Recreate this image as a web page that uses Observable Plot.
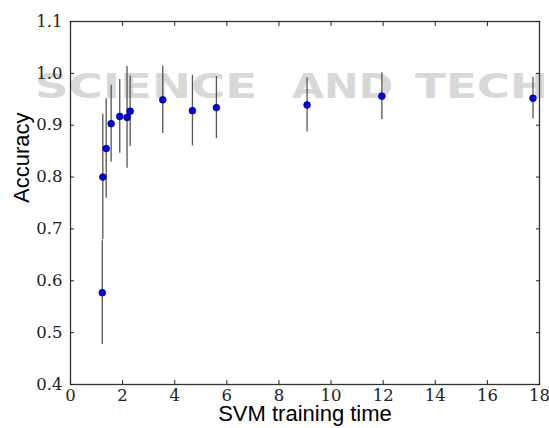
<!DOCTYPE html>
<html><head><meta charset="utf-8">
<script src="https://cdn.jsdelivr.net/npm/d3@7"></script>
<script src="https://cdn.jsdelivr.net/npm/@observablehq/plot@0.6"></script>
<style>
html,body{margin:0;padding:0;background:#fff;}
#wrap{position:relative;width:549px;height:428px;overflow:hidden;}
#wm{position:absolute;left:0;top:0;z-index:0;}
#chart{position:absolute;left:0;top:0;z-index:1;}
#chart svg{background:transparent !important;}
</style></head><body>
<div id="wrap">
<svg id="wm" width="549" height="428">
 <g fill="#d8d8d8" font-family="DejaVu Sans" font-weight="bold" font-size="34">
  <text x="35" y="98" textLength="222" lengthAdjust="spacingAndGlyphs">SCIENCE</text>
  <text x="292" y="98" textLength="101" lengthAdjust="spacingAndGlyphs">AND</text>
  <text x="415" y="98" textLength="133" lengthAdjust="spacingAndGlyphs">TECH</text>
 </g>
</svg>
<div id="chart"></div>
</div>
<script>
const trainingTime = [1.22, 1.24, 1.37, 1.56, 1.89, 2.17, 2.29, 3.54, 4.68, 5.60, 9.08, 11.95, 17.75];
const accuracy     = [0.577, 0.800, 0.855, 0.903, 0.917, 0.915, 0.927, 0.949, 0.928, 0.934, 0.939, 0.956, 0.952];
const accuracyErr  = [0.100, 0.121, 0.096, 0.074, 0.071, 0.098, 0.068, 0.065, 0.068, 0.060, 0.052, 0.045, 0.040];
const xTicks = [0, 2, 4, 6, 8, 10, 12, 14, 16, 18];
const yTicks = [0.4, 0.5, 0.6, 0.7, 0.8, 0.9, 1.0, 1.1];
const yTickLabels = ["0.4", "0.5", "0.6", "0.7", "0.8", "0.9", "1.0", "1.1"];
const xLabel = "SVM training time";
const yLabel = "Accuracy";

const rows = trainingTime.map((t, i) => ({time: t, acc: accuracy[i], err: accuracyErr[i]}));
const yTickRows = yTicks.map((v, i) => ({v, label: yTickLabels[i]}));
const sans = "'Liberation Sans', Arial, sans-serif";
const serif = "'DejaVu Serif', serif";
const noText = () => "";

const chart = Plot.plot({
  width: 549, height: 428,
  marginLeft: 70, marginRight: 10, marginTop: 21, marginBottom: 44,
  style: "background: transparent; color: #222;",
  x: {domain: [0, 18]},
  y: {domain: [0.4, 1.1]},
  marks: [
    Plot.ruleX(rows, {x: "time", y1: d => d.acc - d.err, y2: d => d.acc + d.err, stroke: "#555", strokeWidth: 1.3}),
    Plot.dot(rows, {x: "time", y: "acc", r: 3.4, fill: "#0000ff", stroke: "#000", strokeWidth: 0.6}),
    Plot.frame({stroke: "#333", strokeWidth: 1.3}),
    Plot.axisX(xTicks, {anchor: "bottom", tickSize: -4, tickFormat: noText, label: null}),
    Plot.axisX(xTicks, {anchor: "top", tickSize: -4, tickFormat: noText, label: null}),
    Plot.axisY(yTicks, {anchor: "left", tickSize: -4, tickFormat: noText, label: null}),
    Plot.axisY(yTicks, {anchor: "right", tickSize: -4, tickFormat: noText, label: null}),
    Plot.text(xTicks, {x: d => d, text: d => String(d), frameAnchor: "bottom", dy: 5, lineAnchor: "top",
      fontFamily: serif, fontSize: 16.5, fill: "#222"}),
    Plot.text(yTickRows, {y: "v", text: "label", frameAnchor: "left", dx: -8, textAnchor: "end",
      fontFamily: serif, fontSize: 16.5, fill: "#222"}),
    Plot.text([yLabel], {frameAnchor: "left", dx: -49, rotate: -90, fontFamily: sans, fontSize: 22, fill: "#000"}),
    Plot.text([xLabel], {frameAnchor: "bottom", dy: 21, lineAnchor: "top", fontFamily: sans, fontSize: 22, fill: "#000"})
  ]
});
document.getElementById("chart").appendChild(chart);
</script>
</body></html>
